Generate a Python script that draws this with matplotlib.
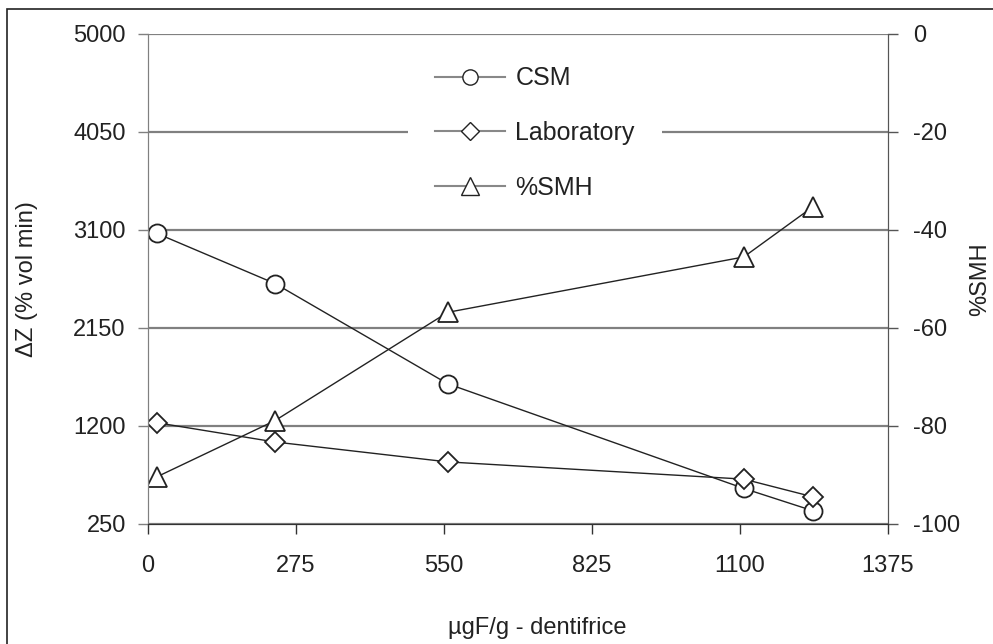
import numpy as np
import matplotlib
matplotlib.use("Agg")
import matplotlib.pyplot as plt
from matplotlib.lines import Line2D

plt.rcParams['font.family'] = ['Liberation Sans', 'DejaVu Sans']
plt.rcParams['axes.unicode_minus'] = False

# fluoride concentration of dentifrice (ugF/g)
fluoride = [16, 236, 557, 1107, 1235]
# mineral loss, left axis
csm = [3068, 2581, 1609, 595, 379]
laboratory = [1232, 1045, 852, 685, 514]
# surface microhardness change, right axis
smh = [-90.4, -78.9, -56.8, -45.5, -35.3]

x_ticks = [0, 275, 550, 825, 1100, 1375]
left_ticks = [250, 1200, 2150, 3100, 4050, 5000]
right_ticks = [-100, -80, -60, -40, -20, 0]

fig = plt.figure(figsize=(9.93, 6.44), dpi=100)
ax = fig.add_axes([148 / 993, 1 - 524 / 644, 740 / 993, 490 / 644])
ax2 = ax.twinx()

mk = dict(color='#222222', lw=1.0, markerfacecolor='white',
          markeredgecolor='#222222', markeredgewidth=1.3)
ax.plot(fluoride, csm, marker='o', ms=13, **mk)
ax.plot(fluoride, laboratory, marker='D', ms=10, **mk)
ax2.plot(fluoride, smh, marker='^', ms=15, **mk)

ax.set_xlim(0, 1375)
ax.set_ylim(250, 5000)
ax2.set_ylim(-100, 0)
ax.set_xticks(x_ticks)
ax.set_yticks(left_ticks)
ax2.set_yticks(right_ticks)

ax.grid(axis='y', color='#808080', lw=1.6)
ax.set_axisbelow(True)
for a in (ax, ax2):
    a.spines['top'].set_visible(False)
    a.spines['left'].set_color('#808080')
    a.spines['right'].set_color('#555555')
    a.spines['bottom'].set_color('#333333')
    a.tick_params(labelsize=17, colors='#333333', length=7, width=1)
ax.tick_params(axis='y', colors='#808080', labelcolor='#222222', pad=9)
ax2.tick_params(axis='y', colors='#555555', labelcolor='#222222', pad=11)
ax.tick_params(axis='x', labelcolor='#222222', pad=15)

ax.set_xlabel('\u00b5gF/g - dentifrice', fontsize=17, color='#222222')
ax.xaxis.set_label_coords(0.526, -0.19)
ax.set_ylabel('\u0394Z (% vol min)', fontsize=17, color='#222222')
ax.yaxis.set_label_coords(-0.149, 0.5)
ax2.set_ylabel('%SMH', fontsize=17, color='#222222', rotation=90)
ax2.yaxis.set_label_coords(1.109, 0.5)

handles = [
    Line2D([], [], marker='o', ms=11, color='#888888', lw=1.5,
           markerfacecolor='white', markeredgecolor='#222222'),
    Line2D([], [], marker='D', ms=9, color='#888888', lw=1.5,
           markerfacecolor='white', markeredgecolor='#222222'),
    Line2D([], [], marker='^', ms=13, color='#888888', lw=1.5,
           markerfacecolor='white', markeredgecolor='#222222'),
]
leg = ax2.legend(handles, ['CSM', 'Laboratory', '%SMH'], loc='upper center',
                 bbox_to_anchor=(0.523, 0.99), fontsize=18, frameon=True,
                 handlelength=2.8, handletextpad=0.4, labelspacing=1.23,
                 borderpad=1.1, borderaxespad=0)
leg.get_frame().set_edgecolor('none')
leg.get_frame().set_facecolor('white')
leg.get_frame().set_alpha(1)
for t in leg.get_texts():
    t.set_color('#222222')

# outer frame of the figure (left and top edges visible)
fig.add_artist(plt.Rectangle((7 / 993, -0.05), 1.0, 1 - 9 / 644 + 0.05,
                             transform=fig.transFigure, fill=False,
                             edgecolor='#222222', lw=1.2))

fig.savefig('out.png', dpi=100)
